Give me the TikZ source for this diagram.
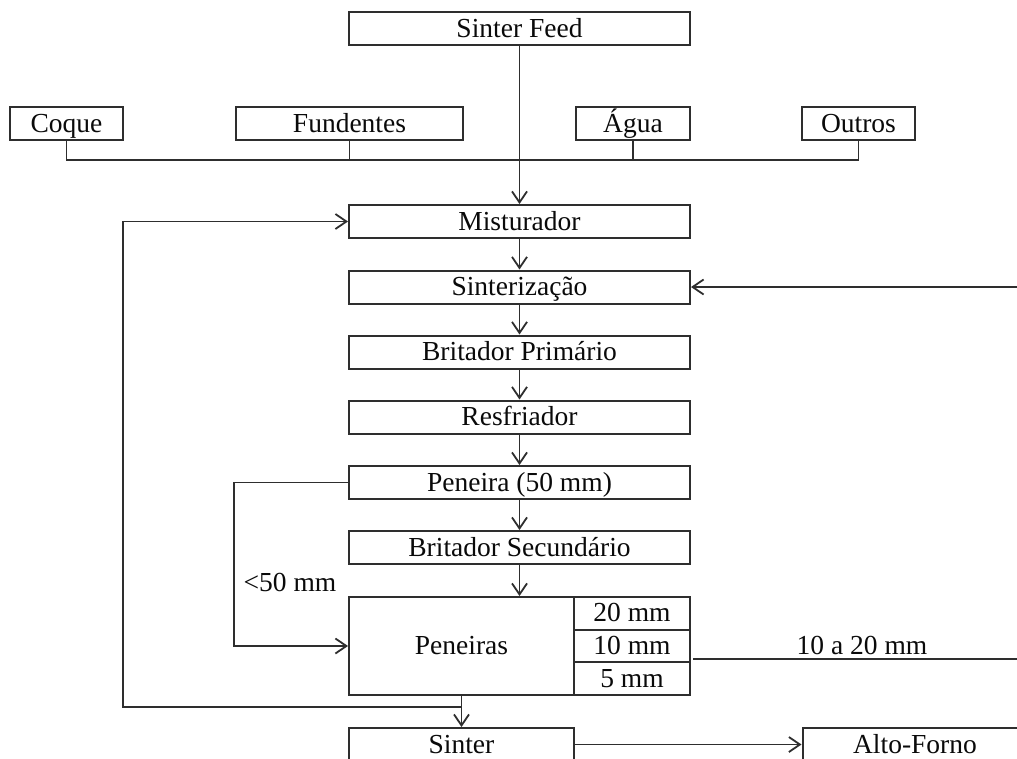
\documentclass[tikz,border=0pt]{standalone}
\usepackage{fontspec}
\setmainfont{Liberation Serif}
\usetikzlibrary{arrows.meta}
\definecolor{lc}{HTML}{2E2E2E}
\definecolor{tc}{HTML}{0A0A0A}
\begin{document}
\begin{tikzpicture}[x=1pt,y=-1pt,
  box/.style={draw=lc, line width=2pt, inner sep=0pt, minimum height=33pt,
    text height=17pt, text depth=0pt, text=tc, font=\fontsize{27.5}{32}\selectfont},
  wide/.style={box, minimum width=341pt},
  small/.style={box, minimum width=113pt},
  cell/.style={box, minimum width=116pt, minimum height=32.7pt},
  lbl/.style={inner sep=0pt, text=tc, font=\fontsize{27.5}{32}\selectfont},
  conn/.style={draw=lc, line width=1.9pt},
  arr/.style={conn, -{Straight Barb[length=11pt,width=15pt,line width=1.8pt]}}
]
\clip (0,0) rectangle (1017,758);
\fill[white] (0,0) rectangle (1017,758);

% top row
\node[wide] (feed) at (519.5,28.5) {Sinter Feed};
\node[small] (coque) at (66.5,123.5) {Coque};
\node[box, minimum width=227pt] (fund) at (349.5,123.5) {Fundentes};
\node[box, minimum width=114pt] (agua) at (633,123.5) {Água};
\node[small] (outros) at (858.5,123.5) {Outros};

% main chain
\node[wide] (mist)  at (519.5,221.5) {Misturador};
\node[wide] (sint)  at (519.5,287)   {Sinterização};
\node[wide] (brit1) at (519.5,352)   {Britador Primário};
\node[wide] (resf)  at (519.5,417)   {Resfriador};
\node[wide] (pen50) at (519.5,482.5) {Peneira (50 mm)};
\node[wide] (brit2) at (519.5,547.5) {Britador Secundário};

% screens
\node[box, minimum width=225pt, minimum height=98pt] (pen) at (461.5,646) {Peneiras};
\node[cell] (c20) at (632,613.3) {20 mm};
\node[cell] (c10) at (632,646)   {10 mm};
\node[cell] (c5)  at (632,678.7) {5 mm};

% bottom
\node[box, minimum width=225pt] (sinter) at (461.5,744.5) {Sinter};
\node[box, minimum width=225pt] (alto) at (915,744.5) {Alto-Forno};

% helper coordinates
\coordinate (lp) at (123,707);
\coordinate (rin) at (1030,287);
\coordinate (o10) at (693,659);
\coordinate (rout) at (1030,659);

% additive bus
\draw[conn] (coque.south) -- ++(0,19) -| (outros.south);
\draw[conn] (fund.south) -- ++(0,19);
\draw[conn] (agua.south) -- ++(0,19);

% chain arrows
\draw[arr] (feed.south) -- (mist.north);
\draw[arr] (mist.south) -- (sint.north);
\draw[arr] (sint.south) -- (brit1.north);
\draw[arr] (brit1.south) -- (resf.north);
\draw[arr] (resf.south) -- (pen50.north);
\draw[arr] (pen50.south) -- (brit2.north);
\draw[arr] (brit2.south) -- (brit2.south |- pen.north);

% <50 mm bypass
\draw[arr] (pen50.west) -- ++(-114,0) |- (pen.west);
\node[lbl, anchor=base] (l50) at (290,591) {<50 mm};

% recycle to mixer
\draw[arr] (pen.south) -- (sinter.north);
\draw[arr] (pen.south |- lp) -- (lp) |- (mist.west);

% return to sintering
\draw[arr] (rin) -- (sint.east);
\draw[conn] (o10) -- (rout);
\node[lbl, anchor=base] (l1020) at (862,654) {10 a 20 mm};

% to blast furnace
\draw[arr] (sinter.east) -- (alto.west);
\end{tikzpicture}
\end{document}
